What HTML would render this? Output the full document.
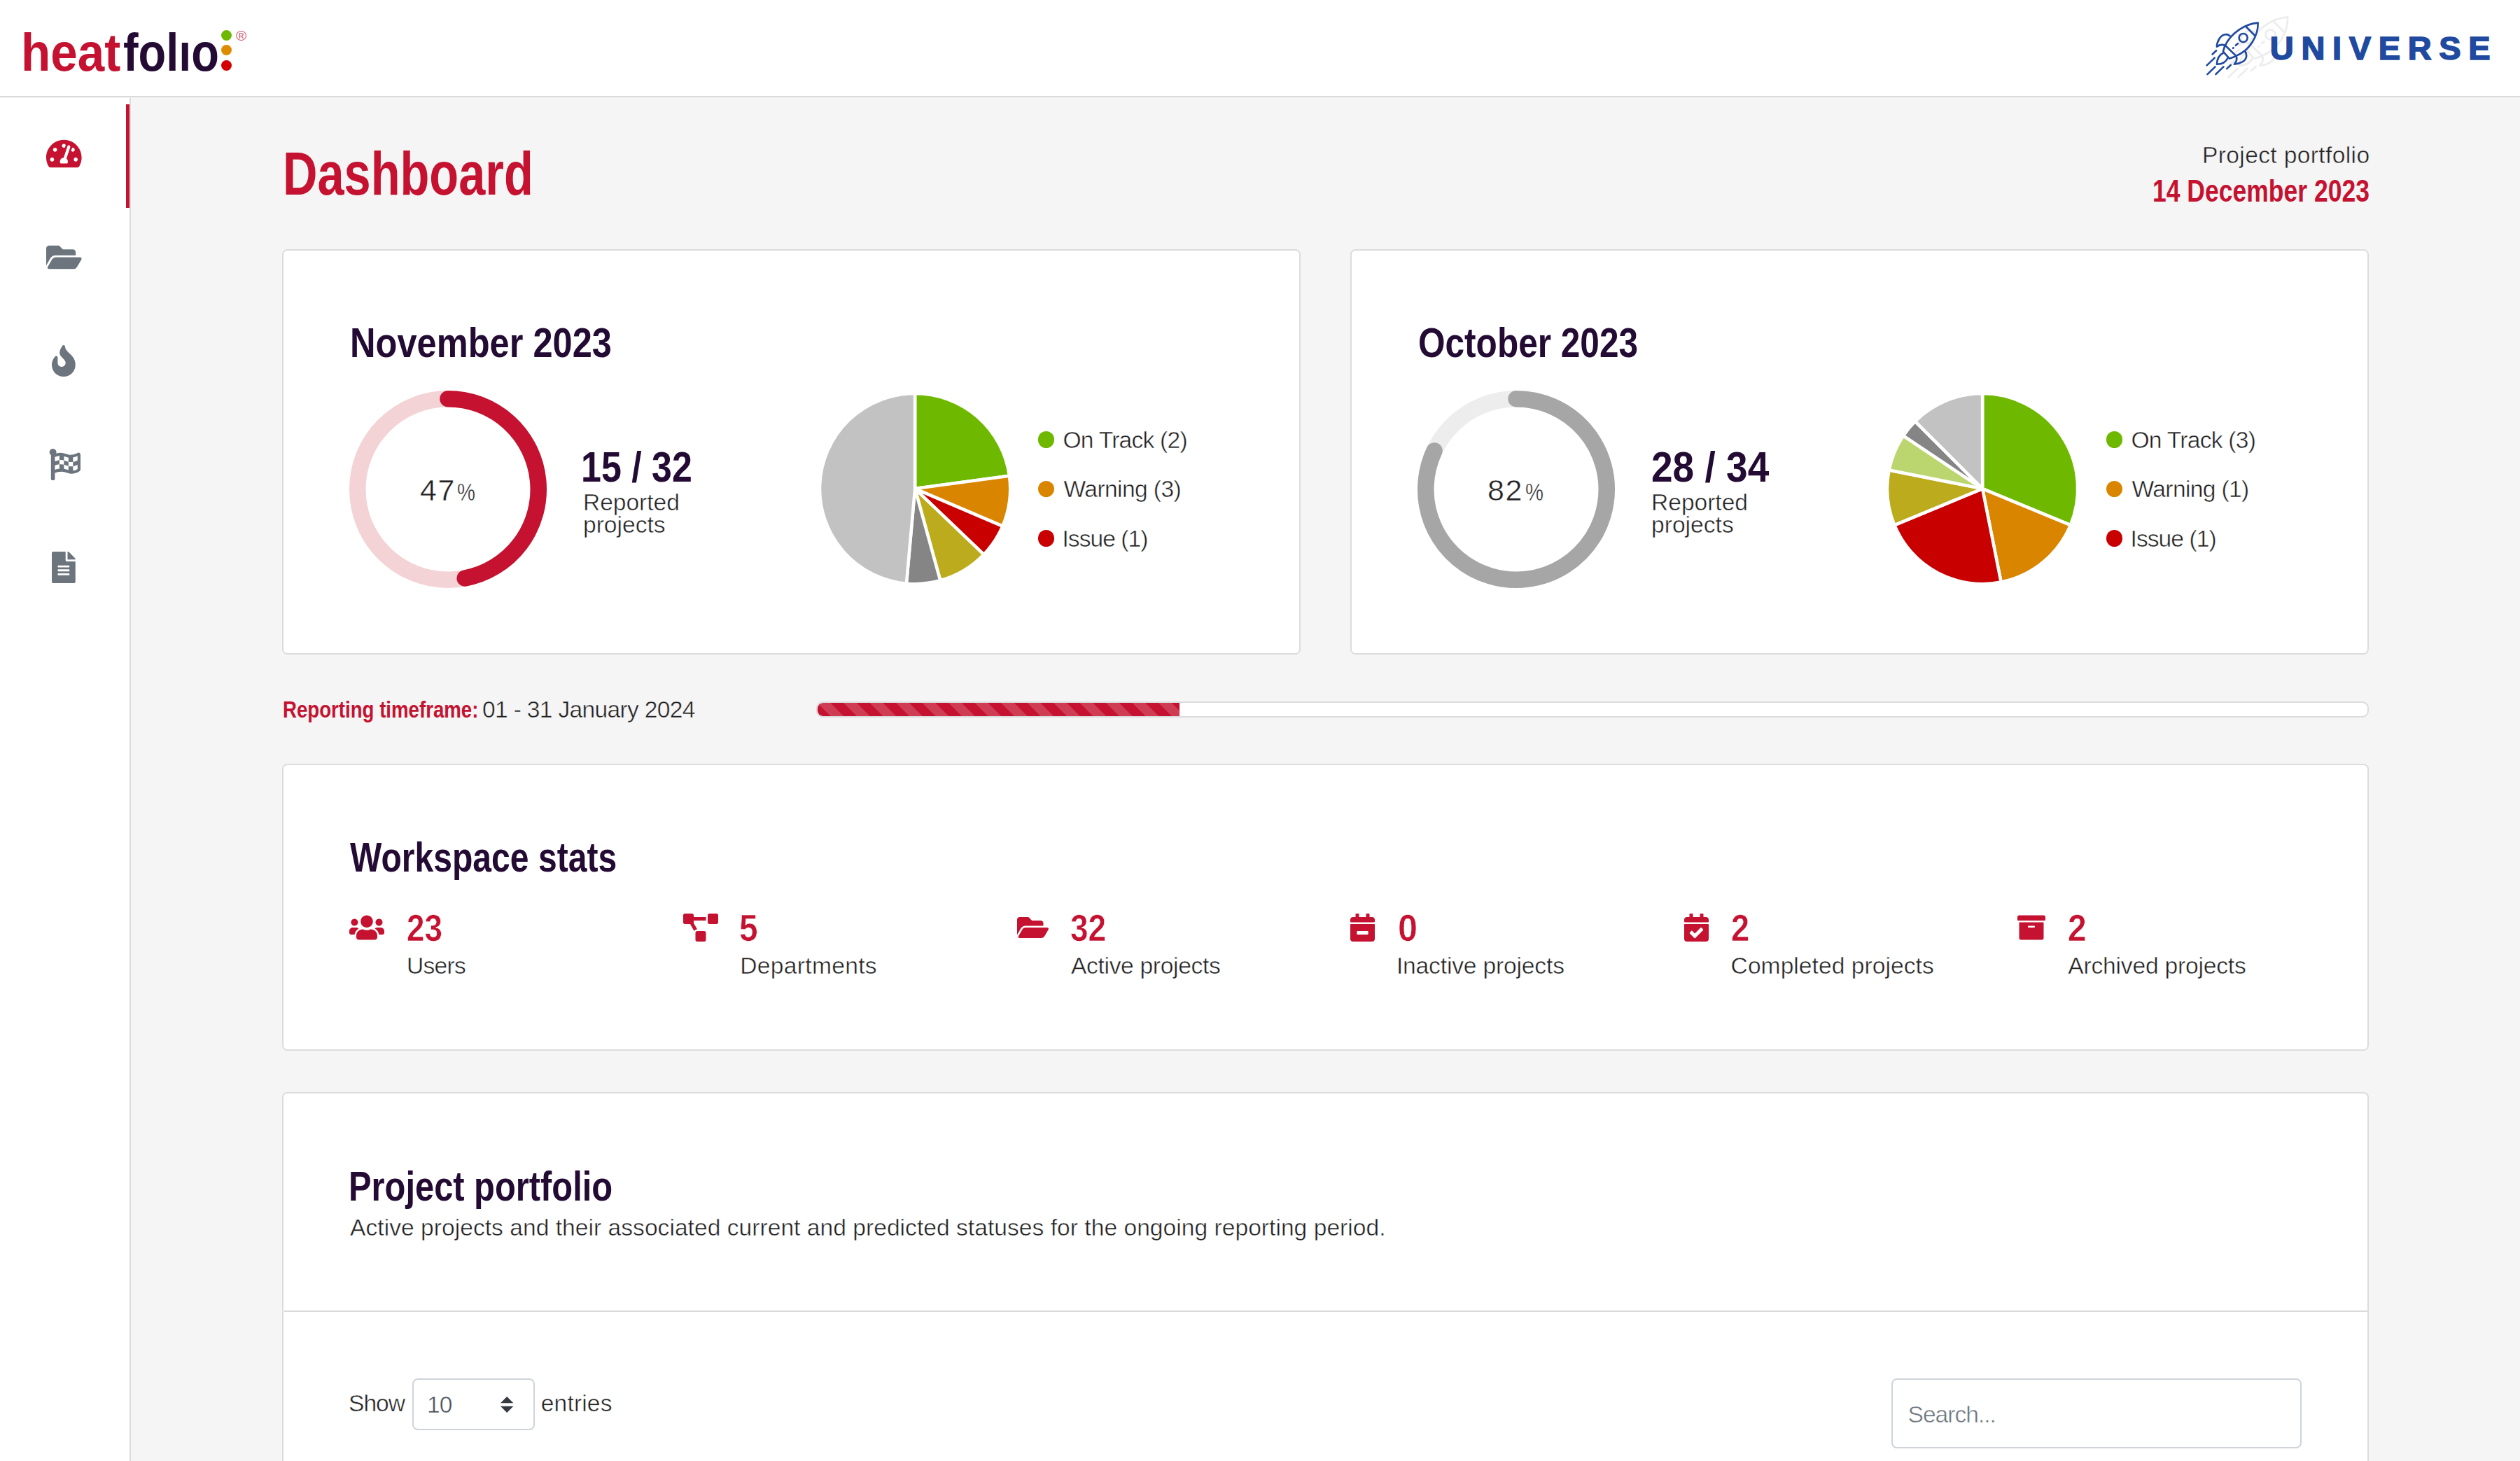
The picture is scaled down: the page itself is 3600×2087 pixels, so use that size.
<!DOCTYPE html>
<html lang="en">
<head>
<meta charset="utf-8">
<title>Dashboard - heatfolio</title>
<style>
html,body{margin:0;padding:0;background:#f5f5f5}
#fit{width:3600px;height:2087px;overflow:hidden;position:relative}
#page{width:3600px;height:2087px;overflow:hidden;position:absolute;left:0;top:0;transform-origin:0 0;background:#f5f5f5;font-family:'Liberation Sans',sans-serif;color:#222}
.t{position:absolute;white-space:nowrap;transform-origin:0 0;margin:0;font-kerning:normal}
.ic{position:absolute;display:block;overflow:visible}
header{position:absolute;left:0;top:0;width:3600px;height:137.3px;background:#fff;border-bottom:2.5px solid #dadada}
aside{position:absolute;left:0;top:139.8px;width:185px;height:1947.2px;background:#fff;border-right:2.5px solid #dcdcdc}
.bar{position:absolute;left:180px;top:9.2px;width:5px;height:148px;background:#c41230}
.card{position:absolute;box-sizing:border-box;background:#fff;border:2.5px solid #dcdcdc;border-radius:7.5px}
.ni{display:inline-block;clip-path:inset(28% 0 0 0)}
.dot{position:absolute;width:23.4px;height:23.4px;border-radius:50%}
.progress{position:absolute;box-sizing:border-box;left:1166.1px;top:1001.5px;width:2218.4px;height:23.3px;background:#fff;border:2.2px solid #dcdcdc;border-radius:9.5px;overflow:hidden}
.progress i{display:block;width:516.5px;height:100%;border-radius:8px 0 0 8px;background-color:#c41230;background-image:linear-gradient(45deg,rgba(255,255,255,.18) 25%,transparent 25%,transparent 50%,rgba(255,255,255,.18) 50%,rgba(255,255,255,.18) 75%,transparent 75%,transparent);background-size:37.5px 37.5px}
.hr{position:absolute;left:405.6px;top:1872.3px;width:2976.4px;height:2.2px;background:#dadada}
.ctl{position:absolute;box-sizing:border-box;background:#fff;border:2.5px solid #ced4da;border-radius:8px}
</style>
</head>
<body>
<div id="fit"><div id="page">
<main>
<h1 class="t" style="left:404px;top:195px;font:700 88px/106px 'Liberation Sans',sans-serif;color:#c41230;transform:scaleX(0.7784)">Dashboard</h1>
<div class="t" style="left:3146px;top:201.25px;font:400 33.6px/41px 'Liberation Sans',sans-serif;color:#222;letter-spacing:0.36px;-webkit-text-stroke:0.5px #f5f5f5">Project portfolio</div>
<div class="t" style="left:3075px;top:245.5px;font:700 44px/53px 'Liberation Sans',sans-serif;color:#c41230;transform:scaleX(0.8071)">14 December 2023</div>
<section class="card" style="left:403.4px;top:355.6px;width:1455px;height:579.7px"></section>
<h2 class="t" style="left:499.5px;top:455px;font:700 59px/71px 'Liberation Sans',sans-serif;color:#230b34;transform:scaleX(0.8573)">November 2023</h2>
<svg class="ic" style="left:497.4px;top:555.5px" width="286" height="286" viewBox="0 0 286 286"><circle cx="143" cy="143" r="129.25" fill="none" stroke="#f4d3d6" stroke-width="23.5"/><path d="M143 13.75A129.25 129.25 0 0 1 167.22 269.96" fill="none" stroke="#c41230" stroke-width="23.5" stroke-linecap="round"/></svg>
<div class="t" style="left:600px;top:674px;font:400 43px/52px 'Liberation Sans',sans-serif;color:#222;letter-spacing:1.5px;-webkit-text-stroke:0.5px #fff">47</div>
<div class="t" style="left:652.75px;top:682px;font:400 35px/42px 'Liberation Sans',sans-serif;color:#222;transform:scaleX(0.8362);-webkit-text-stroke:0.5px #fff">%</div>
<div class="t" style="left:829.5px;top:631.2px;font:700 60.5px/73px 'Liberation Sans',sans-serif;color:#230b34;transform:scaleX(0.8584)">15 / 32</div>
<div class="t" style="left:833px;top:696.75px;font:400 33.6px/41px 'Liberation Sans',sans-serif;color:#222;letter-spacing:-0.04px;-webkit-text-stroke:0.5px #fff">Reported</div>
<div class="t" style="left:833px;top:729.25px;font:400 33.6px/41px 'Liberation Sans',sans-serif;color:#222;letter-spacing:0px;-webkit-text-stroke:0.5px #fff">projects</div>
<svg class="ic" style="left:1167.6px;top:559.1px" width="278.2" height="278.2" viewBox="0 0 278.2 278.2"><path d="M139.1 139.1L139.1 3A136.1 136.1 0 0 1 273.97 120.83Z" fill="#6eb900" stroke="#fff" stroke-width="4.5" stroke-linejoin="round"/><path d="M139.1 139.1L273.97 120.83A136.1 136.1 0 0 1 264.25 192.59Z" fill="#d98500" stroke="#fff" stroke-width="4.5" stroke-linejoin="round"/><path d="M139.1 139.1L264.25 192.59A136.1 136.1 0 0 1 237.47 233.15Z" fill="#c80000" stroke="#fff" stroke-width="4.5" stroke-linejoin="round"/><path d="M139.1 139.1L237.47 233.15A136.1 136.1 0 0 1 175.31 270.3Z" fill="#bcab1c" stroke="#fff" stroke-width="4.5" stroke-linejoin="round"/><path d="M139.1 139.1L175.31 270.3A136.1 136.1 0 0 1 126.9 274.65Z" fill="#858585" stroke="#fff" stroke-width="4.5" stroke-linejoin="round"/><path d="M139.1 139.1L126.9 274.65A136.1 136.1 0 0 1 139.1 3Z" fill="#c2c2c2" stroke="#fff" stroke-width="4.5" stroke-linejoin="round"/></svg>
<span class="dot" style="left:1482.85px;top:616.4px;background:#6eb900"></span>
<div class="t" style="left:1518.5px;top:607.5px;font:400 33.6px/41px 'Liberation Sans',sans-serif;color:#222;letter-spacing:-0.77px;-webkit-text-stroke:0.5px #fff">On Track (2)</div>
<span class="dot" style="left:1482.85px;top:686.9px;background:#d98500"></span>
<div class="t" style="left:1519.5px;top:678px;font:400 33.6px/41px 'Liberation Sans',sans-serif;color:#222;letter-spacing:-0.6px;-webkit-text-stroke:0.5px #fff">Warning (3)</div>
<span class="dot" style="left:1482.85px;top:757.4px;background:#c80000"></span>
<div class="t" style="left:1517.5px;top:748.5px;font:400 33.6px/41px 'Liberation Sans',sans-serif;color:#222;letter-spacing:-0.97px;-webkit-text-stroke:0.5px #fff">Issue (1)</div>
<section class="card" style="left:1929.2px;top:355.6px;width:1455px;height:579.7px"></section>
<h2 class="t" style="left:2026px;top:455px;font:700 59px/71px 'Liberation Sans',sans-serif;color:#230b34;transform:scaleX(0.8400)">October 2023</h2>
<svg class="ic" style="left:2023.2px;top:555.5px" width="286" height="286" viewBox="0 0 286 286"><circle cx="143" cy="143" r="129.25" fill="none" stroke="#ededed" stroke-width="23.5"/><path d="M143 13.75A129.25 129.25 0 1 1 26.05 87.97" fill="none" stroke="#a6a6a6" stroke-width="23.5" stroke-linecap="round"/></svg>
<div class="t" style="left:2125.1px;top:674px;font:400 43px/52px 'Liberation Sans',sans-serif;color:#222;letter-spacing:1.5px;-webkit-text-stroke:0.5px #fff">82</div>
<div class="t" style="left:2178.85px;top:682px;font:400 35px/42px 'Liberation Sans',sans-serif;color:#222;transform:scaleX(0.8362);-webkit-text-stroke:0.5px #fff">%</div>
<div class="t" style="left:2359px;top:631.2px;font:700 60.5px/73px 'Liberation Sans',sans-serif;color:#230b34;transform:scaleX(0.9093)">28 / 34</div>
<div class="t" style="left:2359.1px;top:696.75px;font:400 33.6px/41px 'Liberation Sans',sans-serif;color:#222;letter-spacing:-0.04px;-webkit-text-stroke:0.5px #fff">Reported</div>
<div class="t" style="left:2359.1px;top:729.25px;font:400 33.6px/41px 'Liberation Sans',sans-serif;color:#222;letter-spacing:0px;-webkit-text-stroke:0.5px #fff">projects</div>
<svg class="ic" style="left:2693.4px;top:559.1px" width="278.2" height="278.2" viewBox="0 0 278.2 278.2"><path d="M139.1 139.1L139.1 3A136.1 136.1 0 0 1 264.84 191.18Z" fill="#6eb900" stroke="#fff" stroke-width="4.5" stroke-linejoin="round"/><path d="M139.1 139.1L264.84 191.18A136.1 136.1 0 0 1 165.65 272.58Z" fill="#d98500" stroke="#fff" stroke-width="4.5" stroke-linejoin="round"/><path d="M139.1 139.1L165.65 272.58A136.1 136.1 0 0 1 13.36 191.18Z" fill="#c80000" stroke="#fff" stroke-width="4.5" stroke-linejoin="round"/><path d="M139.1 139.1L13.36 191.18A136.1 136.1 0 0 1 5.62 112.55Z" fill="#bcab1c" stroke="#fff" stroke-width="4.5" stroke-linejoin="round"/><path d="M139.1 139.1L5.62 112.55A136.1 136.1 0 0 1 25.94 63.49Z" fill="#bbd66e" stroke="#fff" stroke-width="4.5" stroke-linejoin="round"/><path d="M139.1 139.1L25.94 63.49A136.1 136.1 0 0 1 42.86 42.86Z" fill="#858585" stroke="#fff" stroke-width="4.5" stroke-linejoin="round"/><path d="M139.1 139.1L42.86 42.86A136.1 136.1 0 0 1 139.1 3Z" fill="#c2c2c2" stroke="#fff" stroke-width="4.5" stroke-linejoin="round"/></svg>
<span class="dot" style="left:3008.65px;top:616.4px;background:#6eb900"></span>
<div class="t" style="left:3044.5px;top:607.5px;font:400 33.6px/41px 'Liberation Sans',sans-serif;color:#222;letter-spacing:-0.75px;-webkit-text-stroke:0.5px #fff">On Track (3)</div>
<span class="dot" style="left:3008.65px;top:686.9px;background:#d98500"></span>
<div class="t" style="left:3045.5px;top:678px;font:400 33.6px/41px 'Liberation Sans',sans-serif;color:#222;letter-spacing:-0.64px;-webkit-text-stroke:0.5px #fff">Warning (1)</div>
<span class="dot" style="left:3008.65px;top:757.4px;background:#c80000"></span>
<div class="t" style="left:3043.5px;top:748.5px;font:400 33.6px/41px 'Liberation Sans',sans-serif;color:#222;letter-spacing:-0.94px;-webkit-text-stroke:0.5px #fff">Issue (1)</div>
<div class="t" style="left:403.5px;top:992.5px;font:700 34px/41px 'Liberation Sans',sans-serif;color:#c41230;transform:scaleX(0.8127)">Reporting timeframe:</div>
<div class="t" style="left:689px;top:993px;font:400 33.6px/41px 'Liberation Sans',sans-serif;color:#222;letter-spacing:-0.68px;-webkit-text-stroke:0.5px #f5f5f5">01 - 31 January 2024</div>
<div class="progress"><i></i></div>
<section class="card" style="left:403.4px;top:1090.6px;width:2981.1px;height:410.4px"></section>
<h2 class="t" style="left:500.4px;top:1190px;font:700 59px/71px 'Liberation Sans',sans-serif;color:#230b34;transform:scaleX(0.8146)">Workspace stats</h2>
<svg class="ic" style="left:499.3px;top:1304.6px" width="50" height="40" viewBox="0 0 640 512"><path fill="#c41230" d="M96 224c35.3 0 64-28.7 64-64s-28.7-64-64-64-64 28.7-64 64 28.7 64 64 64zm448 0c35.3 0 64-28.7 64-64s-28.7-64-64-64-64 28.7-64 64 28.7 64 64 64zm32 32h-64c-17.6 0-33.5 7.1-45.1 18.6 40.3 22.1 68.9 62 75.1 109.4h66c17.7 0 32-14.3 32-32v-32c0-35.3-28.7-64-64-64zm-256 0c61.9 0 112-50.1 112-112S381.9 32 320 32 208 82.1 208 144s50.1 112 112 112zm76.8 32h-8.3c-20.8 10-43.9 16-68.5 16s-47.6-6-68.5-16h-8.3C179.6 288 128 339.6 128 403.2V432c0 26.5 21.5 48 48 48h288c26.5 0 48-21.5 48-48v-28.8c0-63.6-51.6-115.2-115.2-115.2zm-223.7-13.4C161.5 263.1 145.6 256 128 256H64c-35.3 0-64 28.7-64 64v32c0 17.7 14.3 32 32 32h65.9c6.3-47.4 34.9-87.3 75.2-109.4z"/></svg>
<div class="t" style="left:580.8px;top:1292.7px;font:700 54px/65px 'Liberation Sans',sans-serif;color:#c41230;transform:scaleX(0.8494);-webkit-text-stroke:0.6px #fff">23</div>
<div class="t" style="left:580.9px;top:1359.4px;font:400 33.6px/41px 'Liberation Sans',sans-serif;color:#222;letter-spacing:-0.72px;-webkit-text-stroke:0.5px #fff">Users</div>
<svg class="ic" style="left:976px;top:1304.6px" width="50" height="40" viewBox="0 0 640 512"><path fill="#c41230" d="M384 320H256c-17.67 0-32 14.33-32 32v128c0 17.67 14.33 32 32 32h128c17.67 0 32-14.33 32-32V352c0-17.67-14.33-32-32-32zM192 32c0-17.67-14.33-32-32-32H32C14.33 0 0 14.33 0 32v128c0 17.67 14.33 32 32 32h95.72l73.16 128.04C211.98 300.98 232.4 288 256 288h.28L192 175.51V128h224V64H192V32zM608 0H480c-17.67 0-32 14.33-32 32v128c0 17.67 14.33 32 32 32h128c17.67 0 32-14.33 32-32V32c0-17.67-14.33-32-32-32z"/></svg>
<div class="t" style="left:1055.9px;top:1292.7px;font:700 54px/65px 'Liberation Sans',sans-serif;color:#c41230;transform:scaleX(0.8852);-webkit-text-stroke:0.6px #fff">5</div>
<div class="t" style="left:1057.3px;top:1359.4px;font:400 33.6px/41px 'Liberation Sans',sans-serif;color:#222;letter-spacing:0.31px;-webkit-text-stroke:0.5px #fff">Departments</div>
<svg class="ic" style="left:1452.8px;top:1304.6px" width="45" height="40" viewBox="0 0 576 512"><path fill="#c41230" d="M572.694 292.093L500.27 416.248A63.997 63.997 0 0 1 444.989 448H45.025c-18.523 0-30.064-20.093-20.731-36.093l72.424-124.155A64 64 0 0 1 152 256h399.964c18.523 0 30.064 20.093 20.73 36.093zM152 224h328v-48c0-26.51-21.49-48-48-48H272l-64-64H48C21.49 64 0 85.49 0 112v278.046l69.077-118.418C86.214 242.25 117.989 224 152 224z"/></svg>
<div class="t" style="left:1529px;top:1292.7px;font:700 54px/65px 'Liberation Sans',sans-serif;color:#c41230;transform:scaleX(0.8528);-webkit-text-stroke:0.6px #fff">32</div>
<div class="t" style="left:1530px;top:1359.4px;font:400 33.6px/41px 'Liberation Sans',sans-serif;color:#222;letter-spacing:-0.33px;-webkit-text-stroke:0.5px #fff">Active projects</div>
<svg class="ic" style="left:1929.2px;top:1304.6px" width="35" height="40" viewBox="0 0 448 512"><path fill="#c41230" d="M436 160H12c-6.6 0-12-5.4-12-12v-36c0-26.5 21.5-48 48-48h48V12c0-6.6 5.4-12 12-12h40c6.6 0 12 5.4 12 12v52h128V12c0-6.6 5.4-12 12-12h40c6.6 0 12 5.4 12 12v52h48c26.5 0 48 21.5 48 48v36c0 6.6-5.4 12-12 12zM12 192h424c6.6 0 12 5.4 12 12v260c0 26.5-21.5 48-48 48H48c-26.5 0-48-21.5-48-48V204c0-6.6 5.4-12 12-12zm304 192c6.6 0 12-5.4 12-12v-40c0-6.6-5.4-12-12-12H132c-6.6 0-12 5.4-12 12v40c0 6.6 5.4 12 12 12h184z"/></svg>
<div class="t" style="left:1996.6px;top:1292.7px;font:700 54px/65px 'Liberation Sans',sans-serif;color:#c41230;transform:scaleX(0.9346);-webkit-text-stroke:0.6px #fff">0</div>
<div class="t" style="left:1994.9px;top:1359.4px;font:400 33.6px/41px 'Liberation Sans',sans-serif;color:#222;letter-spacing:-0.16px;-webkit-text-stroke:0.5px #fff">Inactive projects</div>
<svg class="ic" style="left:2406px;top:1304.6px" width="35" height="40" viewBox="0 0 448 512"><path fill="#c41230" d="M436 160H12c-6.627 0-12-5.373-12-12v-36c0-26.51 21.49-48 48-48h48V12c0-6.627 5.373-12 12-12h40c6.627 0 12 5.373 12 12v52h128V12c0-6.627 5.373-12 12-12h40c6.627 0 12 5.373 12 12v52h48c26.51 0 48 21.49 48 48v36c0 6.627-5.373 12-12 12zM12 192h424c6.627 0 12 5.373 12 12v260c0 26.51-21.49 48-48 48H48c-26.51 0-48-21.49-48-48V204c0-6.627 5.373-12 12-12zm333.296 95.947l-28.169-28.398c-4.667-4.705-12.265-4.736-16.97-.068L194.12 364.665l-45.98-46.352c-4.667-4.705-12.266-4.736-16.971-.068l-28.397 28.17c-4.705 4.667-4.736 12.265-.068 16.97l82.601 83.269c4.667 4.705 12.265 4.736 16.97.068l142.953-141.805c4.705-4.667 4.736-12.265.068-16.97z"/></svg>
<div class="t" style="left:2472.6px;top:1292.7px;font:700 54px/65px 'Liberation Sans',sans-serif;color:#c41230;transform:scaleX(0.8704);-webkit-text-stroke:0.6px #fff">2</div>
<div class="t" style="left:2472.6px;top:1359.4px;font:400 33.6px/41px 'Liberation Sans',sans-serif;color:#222;letter-spacing:0.05px;-webkit-text-stroke:0.5px #fff">Completed projects</div>
<svg class="ic" style="left:2882.4px;top:1304.6px" width="40" height="40" viewBox="0 0 512 512"><path fill="#c41230" d="M32 448c0 17.7 14.3 32 32 32h384c17.7 0 32-14.3 32-32V160H32v288zm160-212c0-6.6 5.4-12 12-12h104c6.6 0 12 5.4 12 12v8c0 6.6-5.4 12-12 12H204c-6.6 0-12-5.4-12-12v-8zM480 32H32C14.3 32 0 46.3 0 64v48c0 8.8 7.2 16 16 16h480c8.8 0 16-7.2 16-16V64c0-17.7-14.3-32-32-32z"/></svg>
<div class="t" style="left:2953.6px;top:1292.7px;font:700 54px/65px 'Liberation Sans',sans-serif;color:#c41230;transform:scaleX(0.8889);-webkit-text-stroke:0.6px #fff">2</div>
<div class="t" style="left:2954.3px;top:1359.4px;font:400 33.6px/41px 'Liberation Sans',sans-serif;color:#222;letter-spacing:-0.19px;-webkit-text-stroke:0.5px #fff">Archived projects</div>
<section class="card" style="left:403.4px;top:1560px;width:2981.1px;height:527px;border-bottom:0;border-radius:7.5px 7.5px 0 0"></section>
<h2 class="t" style="left:498.2px;top:1660px;font:700 59px/71px 'Liberation Sans',sans-serif;color:#230b34;transform:scaleX(0.8277)">Project portfolio</h2>
<p class="t" style="left:500.1px;top:1733px;font:400 33.6px/41px 'Liberation Sans',sans-serif;color:#222;letter-spacing:0.03px;-webkit-text-stroke:0.5px #fff">Active projects and their associated current and predicted statuses for the ongoing reporting period.</p>
<div class="hr"></div>
<div class="t" style="left:498.1px;top:1984px;font:400 33.6px/41px 'Liberation Sans',sans-serif;color:#222;letter-spacing:-1.03px;-webkit-text-stroke:0.5px #fff">Show</div>
<div class="ctl" style="left:588.9px;top:1969.2px;width:175px;height:74px"></div>
<div class="t" style="left:609.9px;top:1985.7px;font:400 33.6px/41px 'Liberation Sans',sans-serif;color:#495057;letter-spacing:-0.8px;-webkit-text-stroke:0.5px #fff">10</div>
<svg class="ic" style="left:715.4px;top:1994.5px" width="18.4" height="23" viewBox="0 0 4 5"><path fill="#343a40" d="M2 0L0 2h4zm0 5L0 3h4z"/></svg>
<div class="t" style="left:772.8px;top:1984px;font:400 33.6px/41px 'Liberation Sans',sans-serif;color:#222;letter-spacing:0.15px;-webkit-text-stroke:0.5px #fff">entries</div>
<div class="ctl" style="left:2701.8px;top:1969.2px;width:586.3px;height:99.5px"></div>
<div class="t" style="left:2725.5px;top:2000.4px;font:400 33.6px/41px 'Liberation Sans',sans-serif;color:#6c757d;letter-spacing:-1px;-webkit-text-stroke:0.5px #fff">Search...</div>
</main>
<header>
<span class="t" style="left:30.2px;top:28.5px;font:700 76px/92px 'Liberation Sans',sans-serif;color:#c41230;transform:scaleX(0.9106)">heat</span><span class="t" style="left:175.7px;top:28.5px;font:700 76px/92px 'Liberation Sans',sans-serif;color:#230b34;transform:scaleX(0.8541)">fol<span class="ni">i</span>o</span>
<span class="dot" style="left:316.3px;top:42.5px;width:15px;height:15px;background:#6eb900"></span>
<span class="dot" style="left:316.3px;top:64.2px;width:15px;height:15px;background:#dd8b00"></span>
<span class="dot" style="left:316.3px;top:85.8px;width:15px;height:15px;background:#d40000"></span>
<span class="t" style="left:337.3px;top:37.5px;font:400 21px/26px 'Liberation Sans',sans-serif;color:#d85a70;transform:scaleX(0.9882)">®</span>
<svg class="ic" style="left:3130px;top:10px" width="200" height="116" viewBox="0 0 2519 1461" fill="none" stroke-linecap="round" stroke-linejoin="round"><g stroke="#ededed" stroke-width="30" transform="translate(330,-153) scale(1.17)"><path d="M1205 285C960 300 720 480 615 690L810 880C1060 780 1210 520 1205 285Z"/><path d="M985 350L1145 510"/><circle cx="940" cy="555" r="76"/><path d="M805 690L842 658M756 740L762 734"/><path d="M608 700L578 800L690 928L810 885"/><path d="M700 520C640 470 560 490 510 570C480 620 465 670 465 715C510 680 560 670 605 690"/><path d="M975 800C1015 870 1000 940 930 985C880 1015 830 1028 778 1030C820 980 835 935 815 890"/><path d="M575 832C510 860 470 940 465 1030C560 1028 630 990 662 915"/><path d="M385 850L455 785M285 1050L425 915M295 1210L435 1075M445 1210L585 1075M645 1110L715 1045"/></g><g stroke="#1f4aa0" stroke-width="33"><path d="M1205 285C960 300 720 480 615 690L810 880C1060 780 1210 520 1205 285Z"/><path d="M985 350L1145 510"/><circle cx="940" cy="555" r="76"/><path d="M805 690L842 658M756 740L762 734"/><path d="M608 700L578 800L690 928L810 885"/><path d="M700 520C640 470 560 490 510 570C480 620 465 670 465 715C510 680 560 670 605 690"/><path d="M975 800C1015 870 1000 940 930 985C880 1015 830 1028 778 1030C820 980 835 935 815 890"/><path d="M575 832C510 860 470 940 465 1030C560 1028 630 990 662 915"/><path d="M385 850L455 785M285 1050L425 915M295 1210L435 1075M445 1210L585 1075M645 1110L715 1045"/></g></svg>
<span class="t" style="left:3242.8px;top:40.3px;font:700 47px/57px 'Liberation Sans',sans-serif;color:#1f4aa0;letter-spacing:10.64px;-webkit-text-stroke:1.6px #1f4aa0">UNIVERSE</span>
</header>
<aside><div class="bar"></div>
<svg class="ic" style="left:66.09px;top:57.3px" width="50.62" height="45" viewBox="0 0 576 512"><path fill="#c41230" d="M288 32C128.94 32 0 160.94 0 320c0 52.8 14.25 102.26 39.06 144.8 5.61 9.62 16.3 15.2 27.44 15.2h443c11.14 0 21.83-5.58 27.44-15.2C561.75 422.26 576 372.8 576 320c0-159.06-128.94-288-288-288zm0 64c14.71 0 26.58 10.13 30.32 23.65-1.11 2.26-2.64 4.23-3.45 6.67l-9.22 27.67c-5.13 3.49-10.97 6.01-17.64 6.01-17.67 0-32-14.33-32-32S270.33 96 288 96zM96 384c-17.67 0-32-14.33-32-32s14.33-32 32-32 32 14.33 32 32-14.33 32-32 32zm48-160c-17.67 0-32-14.33-32-32s14.33-32 32-32 32 14.33 32 32-14.33 32-32 32zm246.77-72.41l-61.33 184C343.13 347.33 352 364.54 352 384c0 11.72-3.38 22.55-8.88 32H232.88c-5.5-9.45-8.88-20.28-8.88-32 0-33.94 26.5-61.43 59.9-63.59l61.34-184.01c4.17-12.56 17.73-19.45 30.36-15.17 12.57 4.19 19.35 17.79 15.17 30.36zm14.66 57.2l15.52-46.55c3.47-1.29 7.13-2.23 11.05-2.23 17.67 0 32 14.33 32 32s-14.33 32-32 32c-11.38-.01-20.89-6.28-26.57-15.22zM480 384c-17.67 0-32-14.33-32-32s14.33-32 32-32 32 14.33 32 32-14.33 32-32 32z"/></svg>
<svg class="ic" style="left:66.09px;top:205.15px" width="50.62" height="45" viewBox="0 0 576 512"><path fill="#6c757d" d="M572.694 292.093L500.27 416.248A63.997 63.997 0 0 1 444.989 448H45.025c-18.523 0-30.064-20.093-20.731-36.093l72.424-124.155A64 64 0 0 1 152 256h399.964c18.523 0 30.064 20.093 20.73 36.093zM152 224h328v-48c0-26.51-21.49-48-48-48H272l-64-64H48C21.49 64 0 85.49 0 112v278.046l69.077-118.418C86.214 242.25 117.989 224 152 224z"/></svg>
<svg class="ic" style="left:74.42px;top:353px" width="33.75" height="45" viewBox="0 0 384 512"><path fill="#6c757d" d="M216 23.86c0-23.8-30.65-32.77-44.15-13.04C48 191.85 224 200 224 288c0 35.63-29.11 64.46-64.85 63.99-35.17-.45-63.15-29.77-63.15-64.94v-85.51c0-21.7-26.47-32.23-41.43-16.5C27.8 213.16 0 261.33 0 320c0 105.87 86.13 192 192 192s192-86.13 192-192c0-170.29-168-193-168-296.14z"/></svg>
<svg class="ic" style="left:69.5px;top:500.85px" width="45" height="45" viewBox="0 0 512 512"><path fill="#6c757d" d="M243.2 189.9V258c26.1 5.9 49.3 15.6 73.6 22.3v-68.2c-26-5.8-49.4-15.5-73.6-22.2zm223.3-123c-34.3 15.9-76.5 31.9-117 31.9C296 98.8 251.7 64 184.3 64c-25 0-47.3 4.4-68 12 2.8-7.3 4.1-15.2 3.6-23.6C118.1 24 94.8 1.2 66.3 0 34.3-1.3 8 24.3 8 56c0 19 9.5 35.8 24 45.9V488c0 13.3 10.7 24 24 24h16c13.3 0 24-10.7 24-24v-94.4c28.3-12.1 63.6-22.1 114.4-22.1 53.6 0 97.8 34.8 165.2 34.8 48.2 0 86.7-16.3 122.5-40.9 8.7-6 13.8-15.8 13.8-26.4V95.9c.1-23.3-24.2-38.8-45.4-29zM169.6 325.5c-25.8 2.7-50 8.2-73.6 16.6v-70.5c26.2-9.3 47.5-15 73.6-17.4zM464 191c-23.6 9.8-46.3 19.5-73.6 23.9V286c24.8-3.4 51.4-11.8 73.6-26v70.5c-25.1 16.1-48.5 24.7-73.6 27.1V286c-27 3.7-47.9 1.5-73.6-5.6v67.4c-23.9-7.4-47.3-16.7-73.6-21.3V258c-19.7-4.4-40.8-6.8-73.6-3.8v-70c-22.4 3.1-44.6 10.2-73.6 20.9v-70.5c33.2-12.2 50.1-19.8 73.6-22v71.6c27-3.7 48.4-1.3 73.6 5.7v-67.4c23.7 7.4 47.2 16.7 73.6 21.3v68.4c23.7 5.3 47.6 6.9 73.6 2.7V143c27-4.8 52.3-13.6 73.6-22.5z"/></svg>
<svg class="ic" style="left:74.42px;top:648.7px" width="33.75" height="45" viewBox="0 0 384 512"><path fill="#6c757d" d="M224 136V0H24C10.7 0 0 10.7 0 24v464c0 13.3 10.7 24 24 24h336c13.3 0 24-10.7 24-24V160H248c-13.2 0-24-10.8-24-24zm64 236c0 6.6-5.4 12-12 12H108c-6.6 0-12-5.4-12-12v-8c0-6.6 5.4-12 12-12h168c6.6 0 12 5.4 12 12v8zm0-64c0 6.6-5.4 12-12 12H108c-6.6 0-12-5.4-12-12v-8c0-6.6 5.4-12 12-12h168c6.6 0 12 5.4 12 12v8zm0-72v8c0 6.6-5.4 12-12 12H108c-6.6 0-12-5.4-12-12v-8c0-6.6 5.4-12 12-12h168c6.6 0 12 5.4 12 12zm96-114.1v6.1H256V0h6.1c6.4 0 12.5 2.5 17 7l97.9 98c4.5 4.500 7 10.600 7 16.900z"/></svg>
</aside>
</div></div>
<script>(function(){var d=document,p=d.getElementById("page"),q=d.getElementById("fit");function f(){var w=d.documentElement.clientWidth||window.innerWidth,k=w/3600;if(w&&Math.abs(w-3600)>1){p.style.transform="scale("+k+")";q.style.width=w+"px";q.style.height=Math.round(2087*k)+"px"}else{p.style.transform="";q.style.width="";q.style.height=""}}f();window.addEventListener("resize",f)})();</script>
</body>
</html>
